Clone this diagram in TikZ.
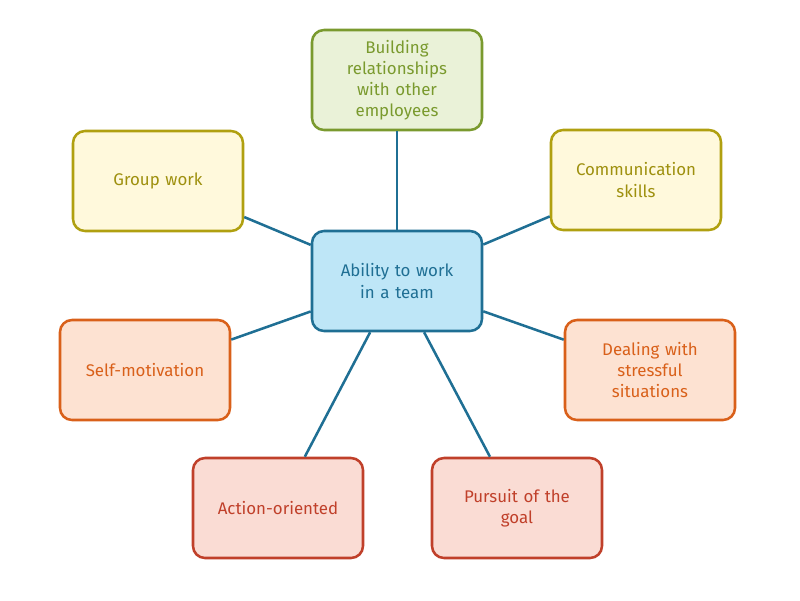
\documentclass[tikz,border=0pt]{standalone}
\usepackage{fontspec}
\setmainfont{Fira Sans}
\usepackage{xcolor}
\usetikzlibrary{positioning}

\definecolor{hubfill}{HTML}{BEE6F7}
\definecolor{hubline}{HTML}{1F6F94}
\definecolor{greenfill}{HTML}{EAF2D8}
\definecolor{greenline}{HTML}{7A9A2E}
\definecolor{yellowfill}{HTML}{FFF9DC}
\definecolor{yellowline}{HTML}{B0A010}
\definecolor{orangefill}{HTML}{FDE2D2}
\definecolor{orangeline}{HTML}{D9601A}
\definecolor{redfill}{HTML}{FADCD4}
\definecolor{redline}{HTML}{C0402A}

\begin{document}
\begin{tikzpicture}[
box/.style={rectangle, rounded corners=0.3cm, line width=1.8pt, minimum width=4.25cm, minimum height=2.5cm, text width=3.6cm, align=center, font=\fontsize{12}{15}\selectfont},
hub/.style={box, fill=hubfill, draw=hubline, text=hubline},
greenbox/.style={box, fill=greenfill, draw=greenline, text=greenline},
yellowbox/.style={box, fill=yellowfill, draw=yellowline, text=yellowline!90!black},
orangebox/.style={box, fill=orangefill, draw=orangeline, text=orangeline},
redbox/.style={box, fill=redfill, draw=redline, text=redline},
spoke/.style={draw=hubline, line width=1.8pt}
]
\useasboundingbox (0,0) rectangle (20,-15);

% Boxes
\node[hub] (team) at (9.925,-7.025) {Ability to work\\in a team};
\node[greenbox] (relations) at (9.925,-2.0) {Building\\relationships\\with other\\employees};
\node[yellowbox] (group) at (3.95,-4.525) {Group work};
\node[yellowbox] (comm) at (15.9,-4.5) {Communication\\skills};
\node[orangebox] (motiv) at (3.625,-9.25) {Self-motivation};
\node[orangebox] (stress) at (16.25,-9.25) {Dealing with\\stressful\\situations};
\node[redbox] (action) at (6.95,-12.7) {Action-oriented};
\node[redbox] (goal) at (12.925,-12.7) {Pursuit of the\\goal};

% Spokes
\foreach \n in {relations,group,comm,motiv,stress,action,goal}
  \draw[spoke] (team) -- (\n);

\end{tikzpicture}
\end{document}
